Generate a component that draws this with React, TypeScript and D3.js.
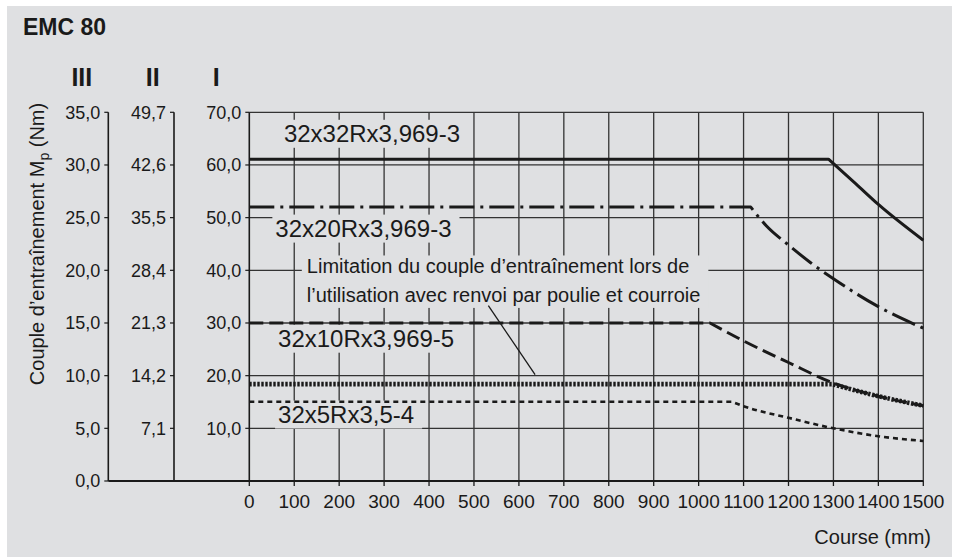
import React, { useEffect, useRef } from 'react';
import * as d3 from 'd3';

const W = 959;
const H = 558;
const BG = '#dfe0e2';
const INK = '#1a1a1a';
const FONT = '"Liberation Sans", Arial, Helvetica, sans-serif';

const title = 'EMC 80';
const xTitle = 'Course (mm)';
const yTitleMain = 'Couple d\u2019entraînement M';
const yTitleSub = 'p';
const yTitleEnd = ' (Nm)';
const romanLabels = ['III', 'II', 'I'];

const courseTicks = [0, 100, 200, 300, 400, 500, 600, 700, 800, 900, 1000, 1100, 1200, 1300, 1400, 1500];
const axisIValues = [70, 60, 50, 40, 30, 20, 10];
const axisILabels = ['70,0', '60,0', '50,0', '40,0', '30,0', '20,0', '10,0'];
const axisIILabels = ['49,7', '42,6', '35,5', '28,4', '21,3', '14,2', '7,1'];
const axisIIIValues = [35, 30, 25, 20, 15, 10, 5, 0];
const axisIIILabels = ['35,0', '30,0', '25,0', '20,0', '15,0', '10,0', '5,0', '0,0'];
const gridTorque = [10, 20, 30, 40, 50, 60, 70];

// Series (torque on scale I); the first two points are the flat part, the rest the falling curve
const s32Course = [0, 1289, 1350, 1400, 1500];
const s32Torque = [61.1, 61.1, 56.4, 52.5, 45.7];
const s20Course = [0, 1116, 1150, 1200, 1250, 1300, 1400, 1500];
const s20Torque = [52, 52, 48.5, 44.8, 41.4, 38.4, 33.1, 29.0];
const s10Course = [0, 1025, 1100, 1200, 1300, 1400, 1500];
const s10Torque = [30, 30, 26.6, 22.5, 18.6, 16.1, 14.3];
const limCourse = [0, 1297, 1400, 1500];
const limTorque = [18.4, 18.4, 16.1, 14.3];
const s5Course = [0, 1074, 1100, 1200, 1300, 1400, 1500];
const s5Torque = [15.05, 15.05, 14.2, 12.0, 10.0, 8.5, 7.6];

const seriesLabels = ['32x32Rx3,969-3', '32x20Rx3,969-3', '32x10Rx3,969-5', '32x5Rx3,5-4'];
const labelCourse = [77, 58, 64, 64];
const labelTorque = [64.4, 46.4, 25.5, 11.1];

const noteLines = ['Limitation du couple d\u2019entraînement lors de', 'l\u2019utilisation avec renvoi par poulie et courroie'];
const noteCourse = 128;
const noteTorque = [39.4, 34.0];
const pointerCourse = [532, 636];
const pointerTorque = [33.3, 20.2];

export default function App() {
  const ref = useRef<SVGSVGElement | null>(null);

  useEffect(() => {
    const svg = d3.select(ref.current);
    svg.selectAll('*').remove();

    const x = d3.scaleLinear().domain([0, 1500]).range([249.3, 923.3]);
    const yI = d3.scaleLinear().domain([0, 70]).range([481, 112.3]);
    const yIII = d3.scaleLinear().domain([0, 35]).range([481, 112.3]);
    const axisIIIx = 108.3;
    const axisIIx = 174;
    const axisIx = x(0);

    svg.append('rect').attr('x', 7).attr('y', 6).attr('width', 945).attr('height', 551).attr('fill', BG);

    svg.append('text').attr('x', 23).attr('y', 35).attr('font-family', FONT).attr('font-weight', 'bold')
      .attr('font-size', 23).attr('fill', INK).text(title);

    const romanX = [81.8, 152.7, 216.3];
    romanLabels.forEach((r, i) => {
      svg.append('text').attr('x', romanX[i]).attr('y', 86).attr('text-anchor', 'middle')
        .attr('font-family', FONT).attr('font-weight', 'bold').attr('font-size', 25).attr('fill', INK).text(r);
    });

    // grid
    const grid = svg.append('g').attr('stroke', '#333').attr('stroke-width', 1.3);
    courseTicks.filter((c) => c > 0).forEach((c) => {
      grid.append('line').attr('x1', x(c)).attr('x2', x(c)).attr('y1', yI(70)).attr('y2', yI(0));
    });
    gridTorque.forEach((t) => {
      grid.append('line').attr('x1', x(0)).attr('x2', x(1500)).attr('y1', yI(t)).attr('y2', yI(t));
    });

    // y axes
    const axes = svg.append('g').attr('stroke', INK).attr('stroke-width', 1.6);
    [axisIIIx, axisIIx, axisIx].forEach((ax) => {
      axes.append('line').attr('x1', ax).attr('x2', ax).attr('y1', yI(70)).attr('y2', yI(0));
    });
    const tickFont = 18;
    axisIIIValues.forEach((v, i) => {
      axes.append('line').attr('x1', axisIIIx - 4).attr('x2', axisIIIx).attr('y1', yIII(v)).attr('y2', yIII(v)).attr('stroke-width', 1.2);
      svg.append('text').attr('x', axisIIIx - 8).attr('y', yIII(v)).attr('dy', '0.35em').attr('text-anchor', 'end')
        .attr('font-family', FONT).attr('font-size', tickFont).attr('fill', INK).text(axisIIILabels[i]);
    });
    axisIValues.forEach((v, i) => {
      axes.append('line').attr('x1', axisIIx - 4).attr('x2', axisIIx).attr('y1', yI(v)).attr('y2', yI(v)).attr('stroke-width', 1.2);
      svg.append('text').attr('x', axisIIx - 8).attr('y', yI(v)).attr('dy', '0.35em').attr('text-anchor', 'end')
        .attr('font-family', FONT).attr('font-size', tickFont).attr('fill', INK).text(axisIILabels[i]);
      axes.append('line').attr('x1', axisIx - 4).attr('x2', axisIx).attr('y1', yI(v)).attr('y2', yI(v)).attr('stroke-width', 1.2);
      svg.append('text').attr('x', axisIx - 8).attr('y', yI(v)).attr('dy', '0.35em').attr('text-anchor', 'end')
        .attr('font-family', FONT).attr('font-size', tickFont).attr('fill', INK).text(axisILabels[i]);
    });

    // x axis baseline and ticks
    svg.append('line').attr('x1', axisIIIx).attr('x2', x(1500)).attr('y1', yI(0)).attr('y2', yI(0))
      .attr('stroke', INK).attr('stroke-width', 2.2);
    courseTicks.forEach((c) => {
      svg.append('line').attr('x1', x(c)).attr('x2', x(c)).attr('y1', yI(0)).attr('y2', yI(0) + 5)
        .attr('stroke', INK).attr('stroke-width', 1.3);
      svg.append('text').attr('x', x(c)).attr('y', 501.5).attr('dy', '0.35em').attr('text-anchor', 'middle')
        .attr('font-family', FONT).attr('font-size', 19).attr('fill', INK).text(String(c));
    });

    svg.append('text').attr('x', 931).attr('y', 537).attr('dy', '0.35em').attr('text-anchor', 'end')
      .attr('font-family', FONT).attr('font-size', 20).attr('fill', INK).text(xTitle);

    const yt = svg.append('text').attr('transform', 'translate(37,244) rotate(-90)').attr('text-anchor', 'middle')
      .attr('dy', '0.35em').attr('font-family', FONT).attr('font-size', 20).attr('fill', INK);
    yt.append('tspan').text(yTitleMain);
    yt.append('tspan').attr('font-size', 14).attr('dy', 5).text(yTitleSub);
    yt.append('tspan').attr('dy', -5).text(yTitleEnd);

    // series labels with background
    seriesLabels.forEach((lab, i) => {
      const g = svg.append('g');
      const r = g.append('rect').attr('fill', BG);
      const t = g.append('text').attr('x', x(labelCourse[i])).attr('y', yI(labelTorque[i]))
        .attr('font-family', FONT).attr('font-size', 24).attr('fill', INK).text(lab);
      const bb = (t.node() as SVGTextElement).getBBox();
      r.attr('x', bb.x - 3).attr('y', bb.y).attr('width', bb.width + 11).attr('height', bb.height + 1);
    });

    // note
    const ng = svg.append('g');
    const nr = ng.append('rect').attr('fill', BG);
    const nt = ng.append('text').attr('font-family', FONT).attr('font-size', 20).attr('fill', INK);
    noteLines.forEach((l, i) => {
      nt.append('tspan').attr('x', x(noteCourse)).attr('y', yI(noteTorque[i])).text(l);
    });
    const nb = (nt.node() as SVGTextElement).getBBox();
    nr.attr('x', nb.x - 5).attr('y', nb.y).attr('width', nb.width + 13).attr('height', nb.height + 2);

    svg.append('line').attr('x1', x(pointerCourse[0])).attr('x2', x(pointerCourse[1]))
      .attr('y1', yI(pointerTorque[0])).attr('y2', yI(pointerTorque[1])).attr('stroke', INK).attr('stroke-width', 1.3);

    const smooth = d3.line<[number, number]>().curve(d3.curveMonotoneX);
    const drawSeries = (cs: number[], ts: number[], width: number, dash: string | null) => {
      const pts = cs.map((c, i) => [x(c), yI(ts[i])] as [number, number]);
      const flat = `M${pts[0][0]},${pts[0][1]}`;
      const fall = (smooth(pts.slice(1)) as string).replace(/^M/, 'L');
      const p = svg.append('path').attr('d', flat + fall).attr('fill', 'none')
        .attr('stroke', INK).attr('stroke-width', width).attr('stroke-linejoin', 'round');
      if (dash) p.attr('stroke-dasharray', dash);
    };
    drawSeries(s5Course, s5Torque, 2.6, '5,4');
    drawSeries(s10Course, s10Torque, 3, '14,6');
    drawSeries(limCourse, limTorque, 4.6, '2.4,1.6');
    drawSeries(s20Course, s20Torque, 3, '25,6,3,6');
    drawSeries(s32Course, s32Torque, 3, null);
  }, []);

  return (
    <svg ref={ref} width={W} height={H} style={{ position: 'absolute', left: 0, top: 0, background: '#fff' }} />
  );
}
